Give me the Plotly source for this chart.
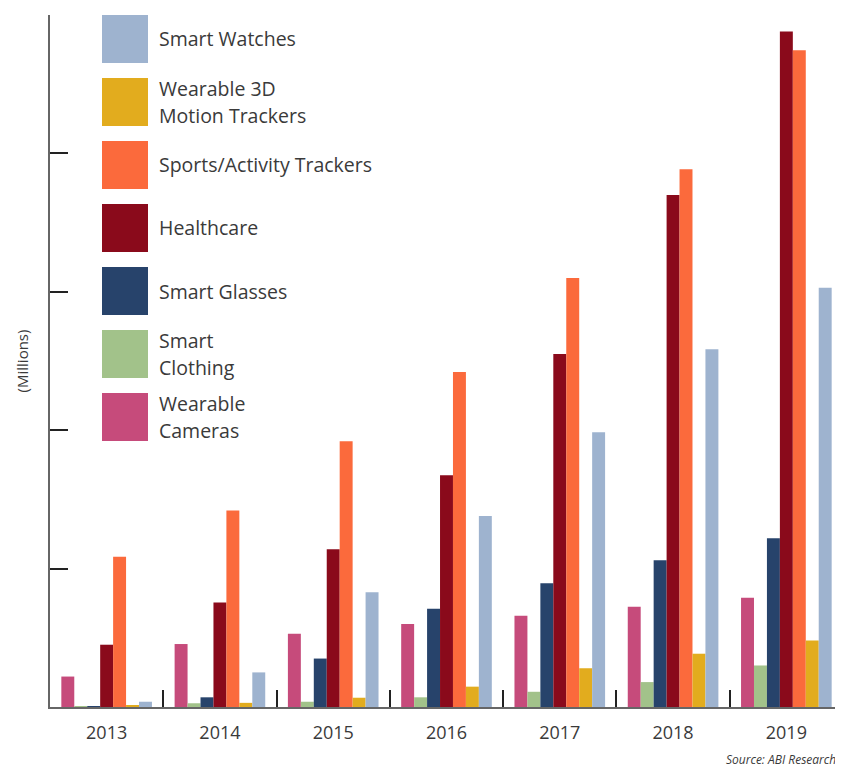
import plotly.graph_objects as go

# Wearable device shipments (Millions)
years = ['2013', '2014', '2015', '2016', '2017', '2018', '2019']

wearable_cameras = [2.2, 4.55, 5.3, 6.0, 6.6, 7.25, 7.9]
smart_clothing = [0.05, 0.27, 0.38, 0.7, 1.1, 1.8, 3.0]
smart_glasses = [0.05, 0.7, 3.5, 7.1, 8.95, 10.6, 12.2]
healthcare = [4.5, 7.55, 11.4, 16.75, 25.5, 37.0, 48.8]
sports_trackers = [10.85, 14.2, 19.2, 24.2, 31.0, 38.85, 47.45]
motion_trackers_3d = [0.1, 0.3, 0.67, 1.47, 2.8, 3.85, 4.8]
smart_watches = [0.38, 2.5, 8.3, 13.8, 19.85, 25.85, 30.3]

series = [
    ('Wearable Cameras', wearable_cameras, '#c64b7b'),
    ('Smart Clothing', smart_clothing, '#a2c28a'),
    ('Smart Glasses', smart_glasses, '#27436b'),
    ('Healthcare', healthcare, '#8a0a1b'),
    ('Sports/Activity Trackers', sports_trackers, '#fb6a3c'),
    ('Wearable 3D Motion Trackers', motion_trackers_3d, '#e2ac1e'),
    ('Smart Watches', smart_watches, '#9eb3cf'),
]

# legend text lines (top to bottom in the legend)
legend_lines = {
    'Smart Watches': ['Smart Watches'],
    'Wearable 3D Motion Trackers': ['Wearable 3D', 'Motion Trackers'],
    'Sports/Activity Trackers': ['Sports/Activity Trackers'],
    'Healthcare': ['Healthcare'],
    'Smart Glasses': ['Smart Glasses'],
    'Smart Clothing': ['Smart', 'Clothing'],
    'Wearable Cameras': ['Wearable', 'Cameras'],
}

# the page body adds an 8px margin, so the figure is a bit smaller
W, H = 835, 764
ML, MR, MT, MB = 42, 0, 7, 65
PW, PH = W - ML - MR, H - MT - MB
FONT = 'Open Sans'
TEXT = '#3a3a3a'


# helpers: page pixel -> paper coords
def px_x(x):
    return (x - 50) / PW


def px_y(y):
    return (707 - y) / PH


fig = go.Figure()

for name, vals, color in series:
    fig.add_trace(go.Bar(
        name=name,
        x=years,
        y=vals,
        marker=dict(color=color, line=dict(width=0)),
        showlegend=False,
    ))

# custom legend with large swatches
shapes = []
annotations = []
for i, (name, vals, color) in enumerate(reversed(series)):
    yc = 39 + 63.0 * i
    shapes.append(dict(
        type='rect', xref='paper', yref='paper',
        x0=px_x(102), x1=px_x(148), y0=px_y(yc + 24), y1=px_y(yc - 24),
        fillcolor=color, line=dict(width=0), layer='above',
    ))
    lines = legend_lines[name]
    offs = [0] if len(lines) == 1 else [-13.5, 13.5]
    for line, off in zip(lines, offs):
        annotations.append(dict(
            xref='paper', yref='paper', x=px_x(157), y=px_y(yc + off),
            xanchor='left', yanchor='middle', text=line, showarrow=False,
            font=dict(family=FONT, size=19.5, color=TEXT),
        ))

annotations.append(dict(
    xref='paper', yref='paper', x=px_x(838), y=px_y(759),
    xanchor='right', yanchor='middle', text='<i>Source: ABI Research</i>',
    showarrow=False, font=dict(family=FONT, size=12, color=TEXT),
))

fig.update_layout(
    width=W, height=H,
    margin=dict(l=ML, r=MR, t=MT, b=MB),
    paper_bgcolor='white', plot_bgcolor='white',
    barmode='group', bargap=0.2, bargroupgap=0,
    shapes=shapes, annotations=annotations,
    font=dict(family=FONT, color=TEXT),
    xaxis=dict(
        type='category', tickson='boundaries',
        ticks='inside', ticklen=17, tickwidth=2, tickcolor='#222',
        showline=True, linecolor='#666', linewidth=2,
        showgrid=False, zeroline=False, ticklabelstandoff=8,
        tickfont=dict(family=FONT, size=18, color=TEXT),
    ),
    yaxis=dict(
        range=[0, 50], tickvals=[0, 10, 20, 30, 40, 50],
        ticks='inside', ticklen=18, tickwidth=2, tickcolor='#222',
        showticklabels=False, showline=True, linecolor='#666', linewidth=2,
        showgrid=False, zeroline=False,
        title=dict(text='(Millions)', standoff=16,
                   font=dict(family=FONT, size=15, color=TEXT)),
    ),
)

fig.write_html('out.html')
